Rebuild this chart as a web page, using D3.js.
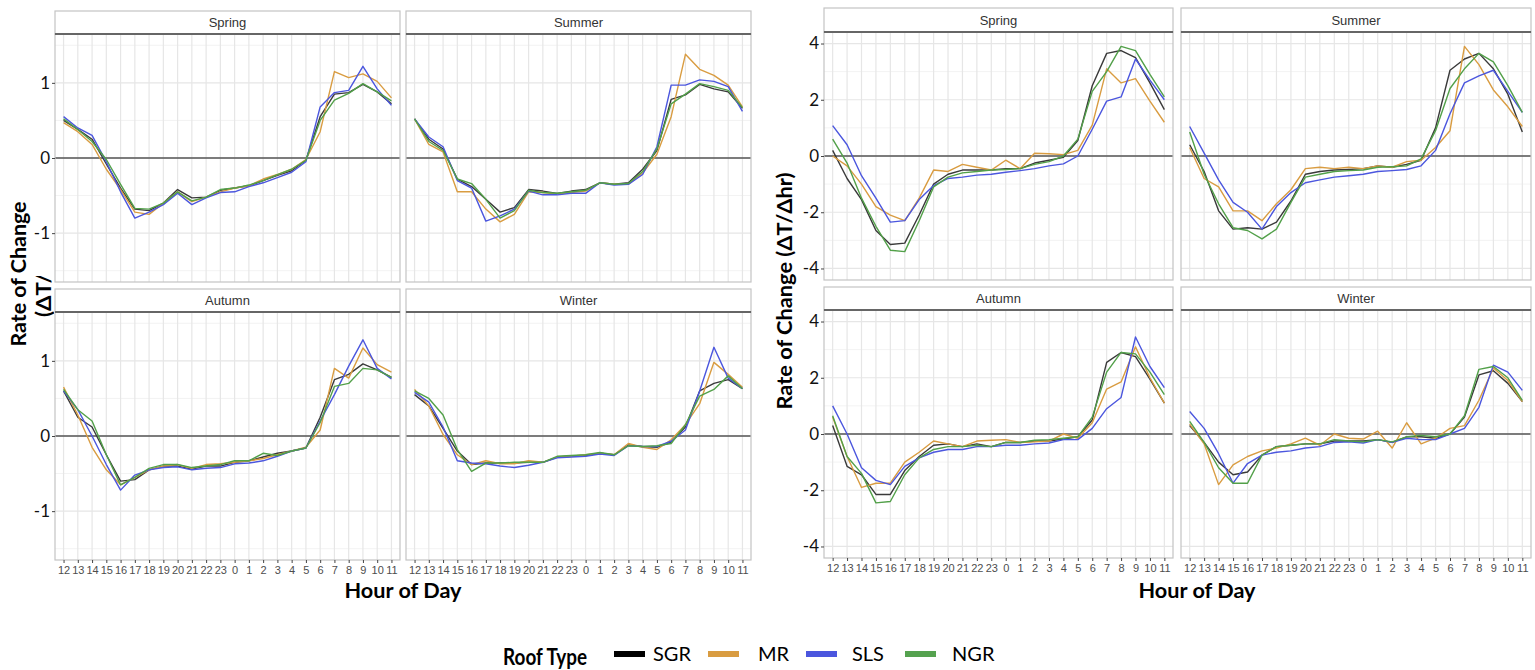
<!DOCTYPE html>
<html lang="en">
<head>
<meta charset="utf-8">
<title>Rate of Change by Roof Type</title>
<script src="https://cdn.jsdelivr.net/npm/d3@7"></script>
<style>
  body { margin: 0; background: #fff; }
  svg { display: block; }
  .strip text { font-family: "Liberation Sans", Arial, sans-serif; font-size: 13px; fill: #333; }
  .xaxis text { font-family: "Liberation Sans", Arial, sans-serif; font-size: 11px; fill: #4d4d4d; }
  .xaxis line, .yaxis line { stroke: #444; }
  .xaxis path, .yaxis path { display: none; }
  .yaxis text { font-family: Lato, "Open Sans", sans-serif; font-size: 17px; fill: #111; }
  .title { font-family: Lato, "Open Sans", sans-serif; font-weight: bold; font-size: 21px; fill: #000; }
  .legend text { font-family: Lato, "Open Sans", sans-serif; font-size: 20px; fill: #000; }
</style>
</head>
<body>
<svg width="1535" height="670"></svg>
<script>
// ---- data ----
const hours = [12, 13, 14, 15, 16, 17, 18, 19, 20, 21, 22, 23, 0, 1, 2, 3, 4, 5, 6, 7, 8, 9, 10, 11];
const seasons = ["Spring", "Summer", "Autumn", "Winter"];
const roofTypes = ["SGR", "MR", "SLS", "NGR"];
const roofColors = ["#3a3a3a", "#d99c41", "#4b56de", "#52a049"];

const leftTicks = [-1, 0, 1];
const leftMinor = [-1.5, -0.5, 0.5, 1.5];
const rightTicks = [-4, -2, 0, 2, 4];
const rightMinor = [-3, -1, 1, 3];

// rows: SGR, MR, SLS, NGR
const leftSpring = [
  [0.50, 0.38, 0.25, -0.08, -0.40, -0.68, -0.70, -0.60, -0.42, -0.53, -0.52, -0.43, -0.40, -0.37, -0.30, -0.23, -0.17, -0.03, 0.55, 0.85, 0.87, 0.98, 0.88, 0.72],
  [0.47, 0.35, 0.18, -0.15, -0.42, -0.72, -0.75, -0.60, -0.45, -0.58, -0.52, -0.45, -0.40, -0.37, -0.28, -0.22, -0.15, -0.02, 0.35, 1.15, 1.07, 1.12, 1.02, 0.80],
  [0.55, 0.40, 0.30, -0.05, -0.45, -0.80, -0.72, -0.62, -0.47, -0.62, -0.53, -0.46, -0.45, -0.38, -0.33, -0.26, -0.19, -0.05, 0.68, 0.87, 0.90, 1.22, 0.92, 0.70],
  [0.52, 0.38, 0.22, -0.02, -0.35, -0.67, -0.68, -0.60, -0.45, -0.57, -0.52, -0.42, -0.40, -0.36, -0.30, -0.22, -0.15, -0.03, 0.50, 0.77, 0.86, 0.99, 0.88, 0.76]
];
const leftSummer = [
  [0.52, 0.25, 0.12, -0.28, -0.38, -0.55, -0.72, -0.66, -0.42, -0.44, -0.47, -0.44, -0.42, -0.33, -0.35, -0.33, -0.15, 0.10, 0.78, 0.84, 0.98, 0.92, 0.88, 0.66],
  [0.52, 0.18, 0.08, -0.45, -0.45, -0.68, -0.85, -0.75, -0.45, -0.46, -0.48, -0.46, -0.44, -0.33, -0.35, -0.35, -0.20, 0.05, 0.55, 1.38, 1.18, 1.10, 0.97, 0.68],
  [0.52, 0.28, 0.15, -0.30, -0.40, -0.84, -0.77, -0.68, -0.44, -0.49, -0.49, -0.47, -0.47, -0.33, -0.36, -0.35, -0.22, 0.15, 0.97, 0.97, 1.04, 1.02, 0.95, 0.62],
  [0.52, 0.22, 0.10, -0.28, -0.34, -0.55, -0.80, -0.70, -0.43, -0.46, -0.47, -0.45, -0.43, -0.33, -0.35, -0.34, -0.18, 0.12, 0.72, 0.85, 0.99, 0.95, 0.90, 0.67]
];
const leftAutumn = [
  [0.60, 0.25, 0.12, -0.25, -0.60, -0.58, -0.45, -0.40, -0.40, -0.44, -0.40, -0.40, -0.35, -0.33, -0.28, -0.23, -0.20, -0.16, 0.25, 0.75, 0.82, 0.96, 0.88, 0.78],
  [0.65, 0.28, -0.15, -0.45, -0.65, -0.55, -0.45, -0.40, -0.38, -0.43, -0.38, -0.37, -0.35, -0.33, -0.30, -0.25, -0.20, -0.15, 0.08, 0.90, 0.77, 1.17, 0.95, 0.85],
  [0.60, 0.35, 0.00, -0.38, -0.72, -0.52, -0.45, -0.42, -0.41, -0.45, -0.43, -0.42, -0.37, -0.36, -0.33, -0.27, -0.20, -0.16, 0.20, 0.55, 0.93, 1.28, 0.90, 0.76],
  [0.62, 0.35, 0.20, -0.25, -0.65, -0.55, -0.43, -0.38, -0.38, -0.42, -0.40, -0.38, -0.33, -0.33, -0.23, -0.26, -0.20, -0.16, 0.18, 0.66, 0.70, 0.90, 0.88, 0.78]
];
const leftWinter = [
  [0.55, 0.40, 0.10, -0.20, -0.38, -0.36, -0.36, -0.36, -0.35, -0.35, -0.28, -0.27, -0.26, -0.23, -0.25, -0.12, -0.14, -0.15, -0.08, 0.12, 0.60, 0.70, 0.75, 0.63],
  [0.62, 0.40, 0.02, -0.25, -0.38, -0.33, -0.37, -0.37, -0.33, -0.35, -0.28, -0.27, -0.25, -0.23, -0.25, -0.10, -0.15, -0.18, -0.05, 0.15, 0.43, 0.98, 0.82, 0.65],
  [0.58, 0.45, 0.12, -0.33, -0.36, -0.37, -0.40, -0.42, -0.39, -0.35, -0.29, -0.28, -0.27, -0.24, -0.26, -0.13, -0.14, -0.14, -0.07, 0.08, 0.60, 1.18, 0.77, 0.63],
  [0.60, 0.50, 0.28, -0.18, -0.47, -0.36, -0.36, -0.35, -0.35, -0.35, -0.27, -0.26, -0.25, -0.22, -0.25, -0.13, -0.14, -0.13, -0.10, 0.15, 0.53, 0.62, 0.80, 0.63]
];

const rightSpring = [
  [0.20, -0.80, -1.55, -2.65, -3.15, -3.10, -2.10, -1.00, -0.65, -0.50, -0.50, -0.50, -0.45, -0.45, -0.25, -0.15, -0.05, 0.55, 2.50, 3.65, 3.75, 3.50, 2.60, 1.65],
  [0.00, -0.35, -1.00, -1.80, -2.10, -2.30, -1.50, -0.50, -0.55, -0.30, -0.40, -0.50, -0.15, -0.45, 0.10, 0.08, 0.05, 0.20, 1.10, 3.10, 2.60, 2.75, 1.95, 1.20],
  [1.08, 0.40, -0.70, -1.50, -2.35, -2.30, -1.55, -1.05, -0.80, -0.75, -0.68, -0.65, -0.58, -0.52, -0.45, -0.35, -0.28, 0.00, 0.95, 1.95, 2.10, 3.45, 2.70, 2.00],
  [0.60, -0.25, -1.50, -2.50, -3.35, -3.40, -2.30, -1.10, -0.75, -0.60, -0.55, -0.50, -0.48, -0.45, -0.30, -0.20, 0.00, 0.60, 2.30, 3.00, 3.90, 3.75, 2.90, 2.10]
];
const rightSummer = [
  [0.40, -0.55, -1.95, -2.60, -2.55, -2.60, -2.35, -1.60, -0.65, -0.55, -0.50, -0.48, -0.45, -0.35, -0.40, -0.30, -0.15, 1.00, 3.05, 3.45, 3.65, 3.10, 2.20, 0.85],
  [0.30, -0.80, -1.10, -1.95, -1.95, -2.30, -1.70, -1.20, -0.45, -0.40, -0.45, -0.40, -0.45, -0.35, -0.40, -0.20, -0.15, 0.30, 0.90, 3.90, 3.25, 2.35, 1.75, 1.05],
  [1.05, 0.10, -0.85, -1.65, -2.00, -2.60, -1.80, -1.30, -0.95, -0.85, -0.75, -0.70, -0.65, -0.55, -0.52, -0.48, -0.35, 0.20, 1.50, 2.60, 2.85, 3.05, 2.30, 1.55],
  [0.85, -0.65, -1.70, -2.55, -2.65, -2.95, -2.60, -1.65, -0.75, -0.65, -0.55, -0.52, -0.50, -0.40, -0.38, -0.35, -0.10, 0.90, 2.40, 3.10, 3.65, 3.35, 2.50, 1.55]
];
const rightAutumn = [
  [0.30, -1.15, -1.45, -2.15, -2.15, -1.30, -0.80, -0.40, -0.35, -0.45, -0.35, -0.45, -0.30, -0.30, -0.25, -0.25, -0.18, -0.10, 0.50, 2.55, 2.90, 2.75, 1.95, 1.10],
  [0.60, -0.80, -1.90, -1.75, -1.75, -1.00, -0.65, -0.25, -0.35, -0.45, -0.25, -0.22, -0.20, -0.30, -0.28, -0.25, 0.00, -0.15, 0.40, 1.60, 1.85, 3.10, 2.00, 1.10],
  [1.00, 0.00, -1.20, -1.65, -1.80, -1.15, -0.85, -0.65, -0.55, -0.55, -0.45, -0.45, -0.40, -0.40, -0.35, -0.32, -0.20, -0.20, 0.20, 0.90, 1.30, 3.45, 2.40, 1.65],
  [0.65, -0.80, -1.40, -2.45, -2.40, -1.45, -0.85, -0.55, -0.45, -0.45, -0.40, -0.45, -0.30, -0.30, -0.22, -0.20, -0.15, -0.10, 0.60, 2.20, 2.90, 2.85, 2.20, 1.40]
];
const rightWinter = [
  [0.30, -0.30, -1.00, -1.45, -1.35, -0.75, -0.45, -0.40, -0.35, -0.35, -0.25, -0.25, -0.25, -0.20, -0.30, -0.10, -0.10, -0.15, 0.00, 0.60, 2.10, 2.25, 1.80, 1.15],
  [0.35, -0.35, -1.80, -1.10, -0.80, -0.60, -0.50, -0.35, -0.15, -0.40, 0.00, -0.15, -0.18, 0.10, -0.50, 0.40, -0.35, -0.15, 0.20, 0.30, 1.20, 2.35, 1.90, 1.15],
  [0.80, 0.20, -0.70, -1.75, -1.05, -0.75, -0.65, -0.60, -0.50, -0.45, -0.30, -0.28, -0.32, -0.20, -0.30, -0.15, -0.20, -0.20, 0.00, 0.20, 0.95, 2.45, 2.20, 1.55],
  [0.45, -0.30, -1.20, -1.75, -1.75, -0.75, -0.45, -0.40, -0.35, -0.35, -0.20, -0.25, -0.28, -0.20, -0.28, -0.10, -0.05, -0.10, 0.00, 0.65, 2.30, 2.40, 2.00, 1.20]
];

// ---- layout ----
const svg = d3.select("svg");

const leftFig = {
  cols: [[55, 400], [406, 751]],
  strips: [[11, 34], [289, 312]],
  panels: [[34, 282], [312, 560]],
  ydom: [-1.65, 1.65], ticks: leftTicks, minor: leftMinor,
  data: [leftSpring, leftSummer, leftAutumn, leftWinter]
};
const rightFig = {
  cols: [[824, 1173], [1181, 1531]],
  strips: [[8, 32], [287, 310]],
  panels: [[32, 280], [310, 558]],
  ydom: [-4.41, 4.41], ticks: rightTicks, minor: rightMinor,
  data: [rightSpring, rightSummer, rightAutumn, rightWinter]
};

function drawFacet(fig, k) {
  const col = k % 2, row = Math.floor(k / 2);
  const [x0, x1] = fig.cols[col];
  const [y0, y1] = fig.panels[row];
  const [s0, s1] = fig.strips[row];

  const x = d3.scalePoint().domain(hours).range([x0, x1]).padding(0.6);
  const y = d3.scaleLinear().domain(fig.ydom).range([y1, y0]);
  const g = svg.append("g");

  g.append("rect").attr("x", x0).attr("y", y0).attr("width", x1 - x0).attr("height", y1 - y0).attr("fill", "#fff");

  g.selectAll(".minor").data(fig.minor).join("line")
    .attr("x1", x0).attr("x2", x1).attr("y1", d => y(d)).attr("y2", d => y(d))
    .attr("stroke", "#f3f3f3").attr("stroke-width", 1);
  g.selectAll(".major").data(fig.ticks).join("line")
    .attr("x1", x0).attr("x2", x1).attr("y1", d => y(d)).attr("y2", d => y(d))
    .attr("stroke", "#e6e6e6").attr("stroke-width", 1.2);
  g.selectAll(".vgrid").data(hours).join("line")
    .attr("x1", d => x(d)).attr("x2", d => x(d)).attr("y1", y0).attr("y2", y1)
    .attr("stroke", "#e6e6e6").attr("stroke-width", 1.2);

  g.append("line").attr("x1", x0).attr("x2", x1).attr("y1", y(0)).attr("y2", y(0))
    .attr("stroke", "#555").attr("stroke-width", 1.6);

  const line = d3.line().x((d, i) => x(hours[i])).y(d => y(d));
  const rows = fig.data[k];
  g.selectAll(".series").data(rows).join("path")
    .attr("d", line).attr("fill", "none")
    .attr("stroke", (d, i) => roofColors[i]).attr("stroke-width", 1.4)
    .attr("stroke-linejoin", "round");

  g.append("rect").attr("x", x0).attr("y", y0).attr("width", x1 - x0).attr("height", y1 - y0)
    .attr("fill", "none").attr("stroke", "#c4c4c4").attr("stroke-width", 1.2);

  const strip = g.append("g").attr("class", "strip");
  strip.append("rect").attr("x", x0).attr("y", s0).attr("width", x1 - x0).attr("height", s1 - s0)
    .attr("fill", "#fff").attr("stroke", "#c4c4c4").attr("stroke-width", 1.2);
  strip.append("line").attr("x1", x0).attr("x2", x1).attr("y1", s1).attr("y2", s1)
    .attr("stroke", "#666").attr("stroke-width", 2);
  strip.append("text").attr("x", (x0 + x1) / 2).attr("y", (s0 + s1) / 2 + 4.5)
    .attr("text-anchor", "middle").text(seasons[k]);

  if (row === 1) {
    g.append("g").attr("class", "xaxis")
      .attr("transform", `translate(0,${y1})`)
      .call(d3.axisBottom(x).tickSize(3).tickPadding(3));
  }
  if (col === 0) {
    g.append("g").attr("class", "yaxis")
      .attr("transform", `translate(${x0},0)`)
      .call(d3.axisLeft(y).tickValues(fig.ticks).tickSize(3).tickPadding(2).tickFormat(d => String(d)));
  }
}

[0, 1, 2, 3].forEach(k => drawFacet(leftFig, k));
[0, 1, 2, 3].forEach(k => drawFacet(rightFig, k));

// axis titles
svg.append("text").attr("class", "title")
  .attr("transform", "translate(26,274) rotate(-90)")
  .attr("text-anchor", "middle").attr("textLength", 145).attr("lengthAdjust", "spacingAndGlyphs")
  .text("Rate of Change");

// second line of the left title only shows in the gap between the panels
svg.append("clipPath").attr("id", "gap").append("rect")
  .attr("x", 0).attr("y", 276).attr("width", 54).attr("height", 50);
svg.append("g").attr("clip-path", "url(#gap)")
  .append("text").attr("class", "title")
  .attr("transform", "translate(51,274) rotate(-90)")
  .attr("text-anchor", "middle").attr("textLength", 86).attr("lengthAdjust", "spacingAndGlyphs")
  .text("(ΔT/Δhr)");

svg.append("text").attr("class", "title")
  .attr("transform", "translate(792,291) rotate(-90)")
  .attr("text-anchor", "middle").attr("textLength", 237).attr("lengthAdjust", "spacingAndGlyphs")
  .text("Rate of Change (ΔT/Δhr)");

svg.append("text").attr("class", "title").attr("x", 403).attr("y", 598)
  .attr("text-anchor", "middle").attr("textLength", 117).attr("lengthAdjust", "spacingAndGlyphs")
  .text("Hour of Day");
svg.append("text").attr("class", "title").attr("x", 1197).attr("y", 598)
  .attr("text-anchor", "middle").attr("textLength", 117).attr("lengthAdjust", "spacingAndGlyphs")
  .text("Hour of Day");

// legend
const legend = svg.append("g").attr("class", "legend");
legend.append("text").attr("class", "title").attr("x", 503).attr("y", 665)
  .attr("textLength", 84).attr("lengthAdjust", "spacingAndGlyphs")
  .style("font-size", "23px").text("Roof Type");
const keyX = [614, 708, 806, 905];
const labelX = [653, 758, 852, 952];
const legendColors = ["#000000", "#d99c41", "#4b56de", "#55a24f"];
legend.selectAll(".key").data(roofTypes).join("rect")
  .attr("x", (d, i) => keyX[i]).attr("y", 651).attr("width", 31).attr("height", 6)
  .attr("fill", (d, i) => legendColors[i]);
legend.selectAll(".lab").data(roofTypes).join("text")
  .attr("x", (d, i) => labelX[i]).attr("y", 661).text(d => d);
</script>
</body>
</html>
